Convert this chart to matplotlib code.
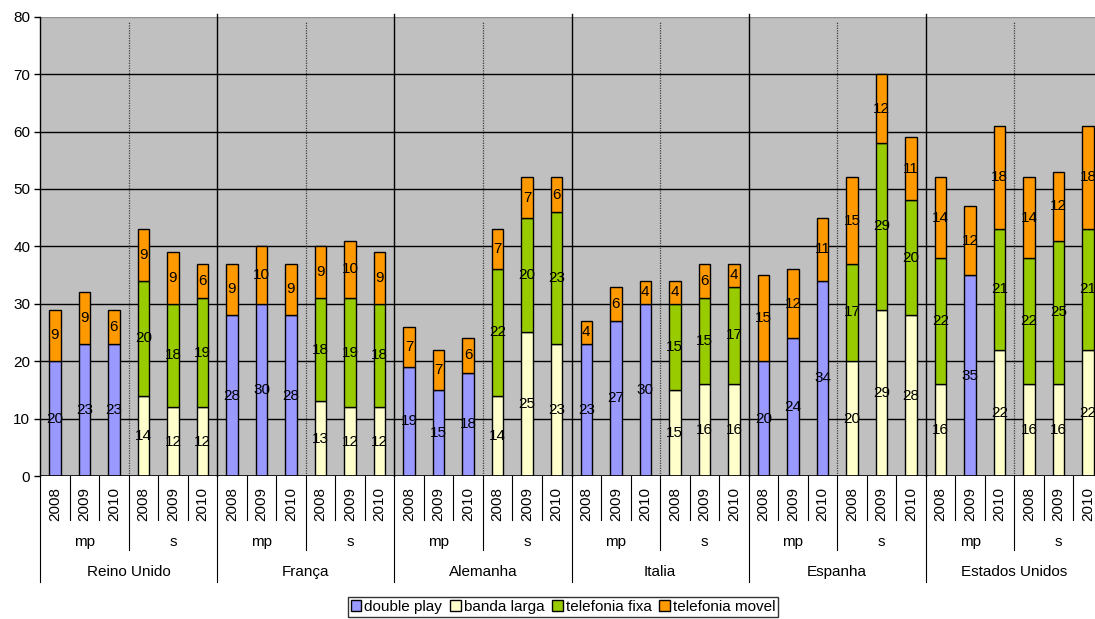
import matplotlib
matplotlib.use("Agg")
import matplotlib.pyplot as plt
from matplotlib.patches import Patch
from matplotlib.transforms import blended_transform_factory
import numpy as np

plt.rcParams['font.family'] = ['Liberation Sans', 'DejaVu Sans']

countries = ["Reino Unido", "França", "Alemanha", "Italia", "Espanha", "Estados Unidos"]
groups = ["mp", "s"]
years = ["2008", "2009", "2010"]

series_names = ["double play", "banda larga", "telefonia fixa", "telefonia movel"]
double_play = [20, 23, 23, 0, 0, 0,
               28, 30, 28, 0, 0, 0,
               19, 15, 18, 0, 0, 0,
               23, 27, 30, 0, 0, 0,
               20, 24, 34, 0, 0, 0,
               0, 35, 0, 0, 0, 0]
banda_larga = [0, 0, 0, 14, 12, 12,
               0, 0, 0, 13, 12, 12,
               0, 0, 0, 14, 25, 23,
               0, 0, 0, 15, 16, 16,
               0, 0, 0, 20, 29, 28,
               16, 0, 22, 16, 16, 22]
telefonia_fixa = [0, 0, 0, 20, 18, 19,
                  0, 0, 0, 18, 19, 18,
                  0, 0, 0, 22, 20, 23,
                  0, 0, 0, 15, 15, 17,
                  0, 0, 0, 17, 29, 20,
                  22, 0, 21, 22, 25, 21]
telefonia_movel = [9, 9, 6, 9, 9, 6,
                   9, 10, 9, 9, 10, 9,
                   7, 7, 6, 7, 7, 6,
                   4, 6, 4, 4, 6, 4,
                   15, 12, 11, 15, 12, 11,
                   14, 12, 18, 14, 12, 18]

colors = ["#9999FF", "#FFFFCC", "#99CC00", "#FF9900"]
FS = 11

W, H = 1095, 619
fig = plt.figure(figsize=(W / 100, H / 100), dpi=100)
left_px, right_px, top_px, bottom_px = 40, 1103, 16.7, 476
ax = fig.add_axes([left_px / W, 1 - bottom_px / H,
                   (right_px - left_px) / W, (bottom_px - top_px) / H])
ax.set_facecolor("#C0C0C0")

n = len(countries) * len(groups) * len(years)
x = np.arange(n)
ax.set_xlim(-0.5, n - 0.5)
ax.set_ylim(0, 80)

# horizontal gridlines
for v in range(10, 80, 10):
    ax.axhline(v, color="black", lw=1.0, zorder=1)
ax.axhline(80, color="#909090", lw=1.0, zorder=1)

# separators inside the plotting area
for c in range(1, len(countries)):
    ax.plot([c * 6 - 0.5] * 2, [0, 80.5], color="black", lw=1.0, zorder=1, clip_on=False)
for c in range(len(countries)):
    ax.plot([c * 6 + 2.5] * 2, [0, 79.1], color="#404040", lw=0.9,
            ls=(0, (1, 1)), zorder=1)

# stacked bars
stack = [double_play, banda_larga, telefonia_fixa, telefonia_movel]
bottom = np.zeros(n)
for vals, col in zip(stack, colors):
    vals = np.array(vals, dtype=float)
    mask = vals > 0
    bars = ax.bar(x[mask], vals[mask], bottom=bottom[mask], width=0.39,
                  color=col, edgecolor="black", linewidth=1.0, zorder=3)
    ax.bar_label(bars, labels=[f"{int(v)}" for v in vals[mask]],
                 label_type="center", fontsize=FS, color="black", zorder=4)
    bottom += vals

# axes styling
for s in ["top", "right", "bottom"]:
    ax.spines[s].set_visible(False)
ax.spines["left"].set_color("black")
ax.spines["left"].set_linewidth(1.0)
ax.axhline(0, color="black", lw=1.2, zorder=5)
ax.set_yticks(range(0, 81, 10))
ax.tick_params(axis="y", direction="out", length=4, width=1, labelsize=FS, pad=3)
ax.set_xticks([])

# multi-level category labels below the axis
trans = blended_transform_factory(ax.transData, ax.transAxes)
hgt = bottom_px - top_px


def yf(py):
    return (bottom_px - py) / hgt


for i in range(n):
    ax.text(i, yf(504), years[i % 3], rotation=90, ha="center", va="center",
            fontsize=FS, transform=trans, clip_on=False)
for i in range(n + 1):
    xb = i - 0.5
    if i % 6 == 0:
        y_end = 582
    elif i % 3 == 0:
        y_end = 550
    else:
        y_end = 520
    ax.plot([xb, xb], [0, yf(y_end)], color="black", lw=0.8, transform=trans, clip_on=False)

for g in range(len(countries) * len(groups)):
    ax.text(g * 3 + 1, yf(542), groups[g % 2], ha="center", va="center",
            fontsize=FS, transform=trans, clip_on=False)
for c, name in enumerate(countries):
    ax.text(c * 6 + 2.5, yf(572), name, ha="center", va="center",
            fontsize=FS, transform=trans, clip_on=False)

handles = [Patch(facecolor=col, edgecolor="black", linewidth=1.0, label=nm)
           for col, nm in zip(colors, series_names)]
leg = fig.legend(handles=handles, loc="upper center", ncol=4,
                 bbox_to_anchor=(563 / W, 1 - 597 / H), fontsize=FS,
                 frameon=True, fancybox=False, shadow=False,
                 handlelength=0.7, handleheight=0.7, handletextpad=0.2,
                 columnspacing=0.5, borderpad=0.2, borderaxespad=0)
leg.get_frame().set_edgecolor("black")
leg.get_frame().set_linewidth(1.0)

fig.savefig("out.png", dpi=100)
